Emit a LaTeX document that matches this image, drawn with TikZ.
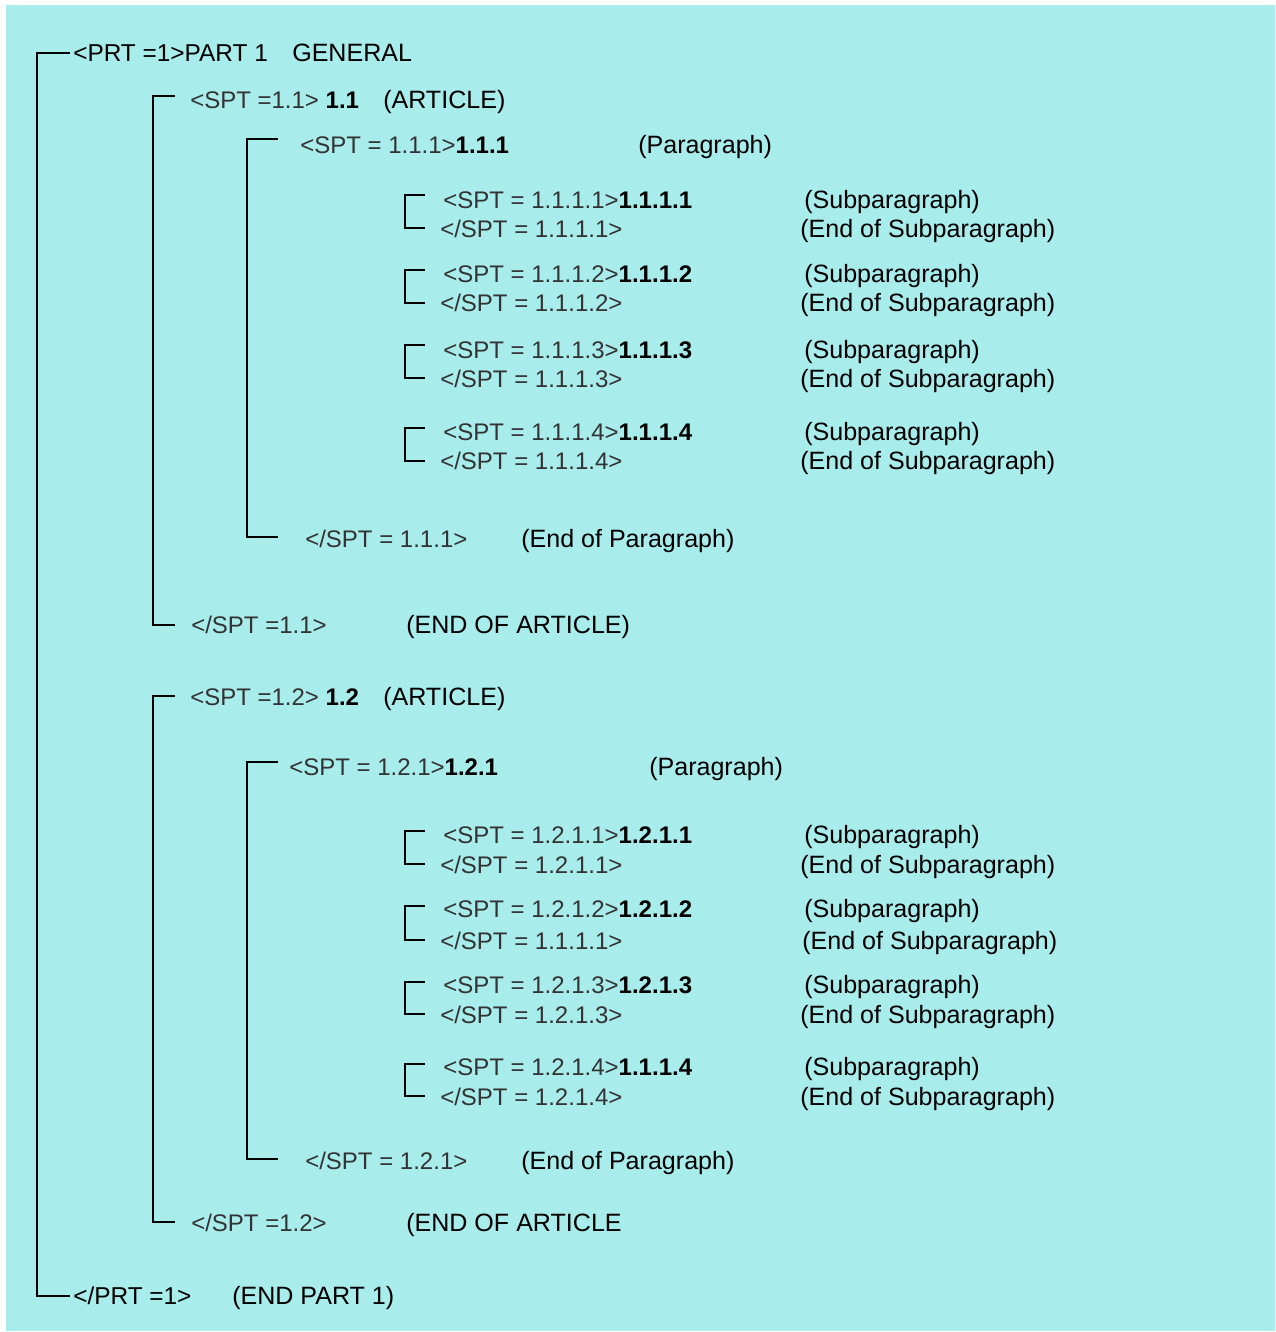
\documentclass[tikz,border=0pt]{standalone}
\usepackage{fontspec}
\setmainfont{Liberation Sans}
\definecolor{bgc}{RGB}{168,236,235}
\definecolor{tagc}{gray}{0.2}
\tikzset{
  txt/.style={anchor=base west, inner sep=0pt, yshift=-6.5pt},
  tag/.style={txt, text=tagc, font=\fontsize{18}{20}\selectfont},
  lbl/.style={txt, text=black, font=\fontsize{18.8}{20}\selectfont},
  brk/.style={line width=1.5pt, line cap=rect, line join=miter},
  sbrk/.style={line width=1.3pt, line cap=rect, line join=miter}
}
\newcommand\mybrk[6]{%
  \coordinate (#1a) at (#4,#5);
  \coordinate (#1b) at (#3,#5);
  \coordinate (#1c) at (#3,#6);
  \coordinate (#1d) at (#4,#6);
  \draw[#2] (#1a) -- (#1b) -- (#1c) -- (#1d);}
\newcommand\bnum[1]{\textcolor{black}{\bfseries #1}}
\begin{document}
\begin{tikzpicture}[x=0.75pt,y=-0.75pt]
\useasboundingbox (0,0) rectangle (1275,1332);
\fill[white] (0,0) rectangle (1275,1332);
\fill[bgc] (6,5) rectangle (1275,1331);

% brackets
\mybrk{bo}{brk}{37}{69}{53}{1296}
\mybrk{ba}{brk}{153}{174}{96}{625}
\mybrk{bp}{brk}{247}{277}{139}{537}
\mybrk{bs1}{sbrk}{405}{424}{195}{228}
\mybrk{bs2}{sbrk}{405}{424}{270}{303}
\mybrk{bs3}{sbrk}{405}{424}{345}{378}
\mybrk{bs4}{sbrk}{405}{424}{428}{461}
\mybrk{bA}{brk}{153}{174}{696}{1222}
\mybrk{bP}{brk}{247}{277}{762}{1159}
\mybrk{bS1}{sbrk}{405}{424}{831}{864}
\mybrk{bS2}{sbrk}{405}{424}{906}{940}
\mybrk{bS3}{sbrk}{405}{424}{982}{1014}
\mybrk{bS4}{sbrk}{405}{424}{1064}{1096}

% part
\node[lbl, font=\fontsize{18.3}{20}\selectfont] (prt) at (73,53) {<PRT =1>PART 1};
\node[lbl] (gen) at (292,53) {GENERAL};
\node[lbl, font=\fontsize{18.3}{20}\selectfont] (eprt) at (73,1296) {</PRT =1>};
\node[lbl] (eprtl) at (232,1296) {(END PART 1)};

% article 1.1
\node[tag] (a11) at (190,100) {<SPT =1.1> \bnum{1.1}};
\node[lbl] (a11l) at (383,100) {(ARTICLE)};
\node[tag] (p111) at (300,145) {<SPT = 1.1.1>\bnum{1.1.1}};
\node[lbl] (p111l) at (638,145) {(Paragraph)};

\node[tag] (s1) at (443,200) {<SPT = 1.1.1.1>\bnum{1.1.1.1}};
\node[lbl] (s1l) at (804,200) {(Subparagraph)};
\node[tag] (e1) at (440,229) {</SPT = 1.1.1.1>};
\node[lbl] (e1l) at (800,229) {(End of Subparagraph)};

\node[tag] (s2) at (443,274) {<SPT = 1.1.1.2>\bnum{1.1.1.2}};
\node[lbl] (s2l) at (804,274) {(Subparagraph)};
\node[tag] (e2) at (440,303) {</SPT = 1.1.1.2>};
\node[lbl] (e2l) at (800,303) {(End of Subparagraph)};

\node[tag] (s3) at (443,350) {<SPT = 1.1.1.3>\bnum{1.1.1.3}};
\node[lbl] (s3l) at (804,350) {(Subparagraph)};
\node[tag] (e3) at (440,379) {</SPT = 1.1.1.3>};
\node[lbl] (e3l) at (800,379) {(End of Subparagraph)};

\node[tag] (s4) at (443,432) {<SPT = 1.1.1.4>\bnum{1.1.1.4}};
\node[lbl] (s4l) at (804,432) {(Subparagraph)};
\node[tag] (e4) at (440,461) {</SPT = 1.1.1.4>};
\node[lbl] (e4l) at (800,461) {(End of Subparagraph)};

\node[tag] (ep111) at (305,539) {</SPT = 1.1.1>};
\node[lbl] (ep111l) at (521,539) {(End of Paragraph)};
\node[tag] (ea11) at (191,625) {</SPT =1.1>};
\node[lbl] (ea11l) at (406,625) {(END OF ARTICLE)};

% article 1.2
\node[tag] (a12) at (190,697) {<SPT =1.2> \bnum{1.2}};
\node[lbl] (a12l) at (383,697) {(ARTICLE)};
\node[tag] (p121) at (289,767) {<SPT = 1.2.1>\bnum{1.2.1}};
\node[lbl] (p121l) at (649,767) {(Paragraph)};

\node[tag] (S1) at (443,835) {<SPT = 1.2.1.1>\bnum{1.2.1.1}};
\node[lbl] (S1l) at (804,835) {(Subparagraph)};
\node[tag] (E1) at (440,865) {</SPT = 1.2.1.1>};
\node[lbl] (E1l) at (800,865) {(End of Subparagraph)};

\node[tag] (S2) at (443,909) {<SPT = 1.2.1.2>\bnum{1.2.1.2}};
\node[lbl] (S2l) at (804,909) {(Subparagraph)};
\node[tag] (E2) at (440,941) {</SPT = 1.1.1.1>};
\node[lbl] (E2l) at (802,941) {(End of Subparagraph)};

\node[tag] (S3) at (443,985) {<SPT = 1.2.1.3>\bnum{1.2.1.3}};
\node[lbl] (S3l) at (804,985) {(Subparagraph)};
\node[tag] (E3) at (440,1015) {</SPT = 1.2.1.3>};
\node[lbl] (E3l) at (800,1015) {(End of Subparagraph)};

\node[tag] (S4) at (443,1067) {<SPT = 1.2.1.4>\bnum{1.1.1.4}};
\node[lbl] (S4l) at (804,1067) {(Subparagraph)};
\node[tag] (E4) at (440,1097) {</SPT = 1.2.1.4>};
\node[lbl] (E4l) at (800,1097) {(End of Subparagraph)};

\node[tag] (ep121) at (305,1161) {</SPT = 1.2.1>};
\node[lbl] (ep121l) at (521,1161) {(End of Paragraph)};
\node[tag] (ea12) at (191,1223) {</SPT =1.2>};
\node[lbl] (ea12l) at (406,1223) {(END OF ARTICLE};
\end{tikzpicture}
\end{document}
